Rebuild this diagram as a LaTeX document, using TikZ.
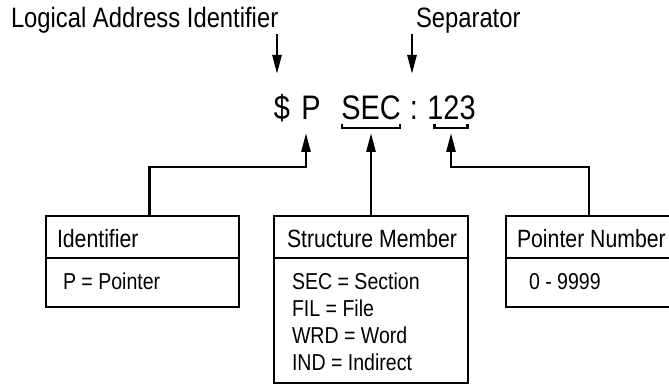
\documentclass[tikz,border=0pt]{standalone}
\usepackage{fontspec}
\setmainfont[FakeStretch=0.85]{Liberation Sans}
\usetikzlibrary{arrows.meta,positioning,calc}

\begin{document}
\begin{tikzpicture}[x=1pt,y=1pt,
    every node/.style={inner sep=0, outer sep=0},
    heading/.style={anchor=base west, font=\fontsize{28}{30}\selectfont},
    code/.style={anchor=base, font=\fontsize{34}{36}\selectfont},
    boxhead/.style={anchor=base west, font=\fontsize{25}{27}\selectfont},
    boxitem/.style={anchor=base west, font=\fontsize{23}{25}\selectfont},
    box/.style={draw, line width=2.6pt, anchor=north west, minimum height=91},
    conn/.style={line width=2.6pt},
    brk/.style={line width=2.2pt},
    arr/.style={line width=2.6pt, -{Triangle[length=19pt,width=9pt]}},
    ]
\useasboundingbox (0,0) rectangle (669,385);

% labels on top
\node[heading] (lai) at (11,357) {Logical Address Identifier};
\node[heading] (sep) at (416,357) {Separator};

% the address
\node[code] (dollar) at (282,265) {\$};
\node[code] (pchar) at (311,265) {P};
\node[code] (sec) at (371,265) {SEC};
\node[code] (colon) at (414,265) {:};
\node[code] (num) at (451.5,265) {123};

\coordinate (laitip) at (277,311);
\coordinate (septip) at (412,311);
\coordinate (ptip) at (306,252);
\coordinate (sectip) at (371,252);
\coordinate (numtip) at (451,252);

\draw[arr] (lai.south -| laitip) -- (laitip);
\draw[arr] (sep.south -| septip) -- (septip);

% brackets
\draw[brk] ([shift={(-29,-4)}]sec.base) -- ++(0,-4) -| ([shift={(29,-4)}]sec.base);
\draw[brk] ([shift={(-17,-4)}]num.base) -- ++(0,-4) -| ([shift={(16,-4)}]num.base);

% boxes
\node[box, minimum width=193] (idbox) at (46,169) {};
\node[box, minimum width=194, minimum height=167] (stbox) at (274,169) {};
\node[box, minimum width=166] (ptbox) at (506,169) {};

\foreach \b in {idbox,stbox,ptbox}
    \draw[conn] ([yshift=-42pt]\b.north west) -- ([yshift=-42pt]\b.north east);

\node[boxhead] (idhead) at ($(idbox.north west)+(11,-32)$) {Identifier};
\node[boxhead] (sthead) at ($(stbox.north west)+(13,-32)$) {Structure Member};
\node[boxhead] (pthead) at ($(ptbox.north west)+(11,-32)$) {Pointer Number};

\node[boxitem] (iditem) at ($(idbox.north west)+(17,-74)$) {P = Pointer};
\foreach \txt [count=\i] in {SEC = Section, FIL = File, WRD = Word, IND = Indirect}
    \node[boxitem] (st-\i) at ($(stbox.north west)+(18,{-74-26.7*(\i-1)})$) {\txt};
\node[boxitem] (ptitem) at ($(ptbox.north west)+(23,-74)$) {0 - 9999};

% connectors up to the address
\draw[arr] ([xshift=7pt]idbox.north) -- ++(0,49) -| (ptip);
\draw[arr] (stbox.north) -- (sectip);
\draw[arr] (ptbox.north) -- ++(0,49) -| (numtip);

\end{tikzpicture}
\end{document}
